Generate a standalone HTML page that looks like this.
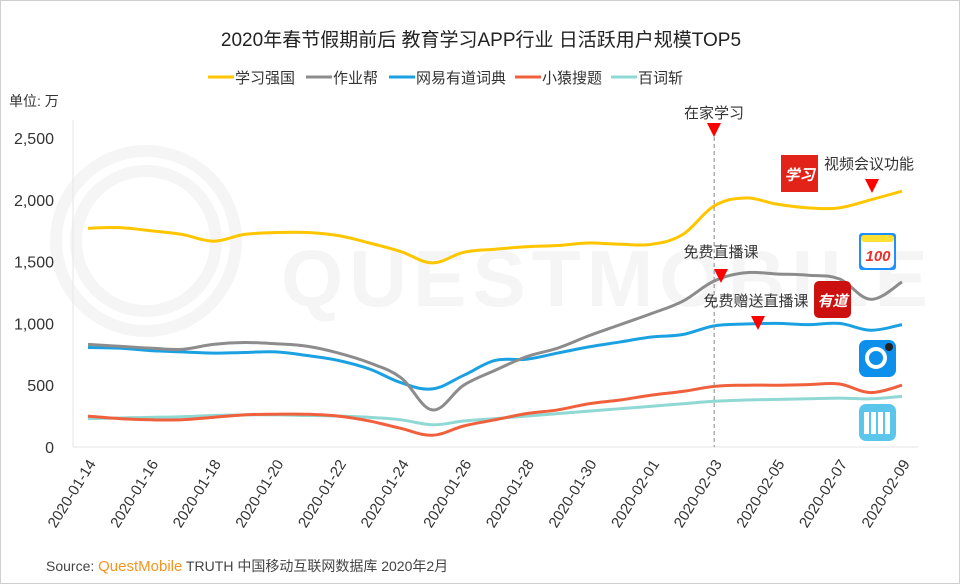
<!DOCTYPE html>
<html><head><meta charset="utf-8"><style>
html,body{margin:0;padding:0;background:#fff}
#wrap{position:relative;width:958px;height:582px;border:1px solid #cfcfcf;overflow:hidden;font-family:"Liberation Sans","Noto Sans CJK SC",sans-serif}
svg text{font-family:"Liberation Sans","Noto Sans CJK SC",sans-serif}
</style></head><body>
<div id="wrap">
<svg id="chart" width="958" height="582" viewBox="0 0 958 582">
  <g fill="none" stroke="#f5f5f5" stroke-width="12">
    <circle cx="145" cy="240" r="90"></circle>
    <circle cx="145" cy="240" r="70"></circle>
    <text x="280" y="305" font-size="80" fill="#f5f5f5" stroke="none" font-weight="bold" letter-spacing="6">QUESTMOBILE</text>
  </g>
  <text x="480" y="45" text-anchor="middle" font-size="19" fill="#222">2020年春节假期前后 教育学习APP行业 日活跃用户规模TOP5</text>
  <g id="legend"></g>
  <text x="8" y="105" font-size="14" fill="#333">单位: 万</text>
  <g id="yaxis"></g>
  <g id="xaxis"></g>
  <g id="series"></g>
  <g id="annot"></g>
  <text x="45" y="570" font-size="14" fill="#444">Source:  <tspan fill="#f7941d" font-size="15">QuestMobile</tspan> TRUTH 中国移动互联网数据库 2020年2月</text>
</svg>
</div>
<script>
const categories=["2020-01-14","2020-01-15","2020-01-16","2020-01-17","2020-01-18","2020-01-19","2020-01-20","2020-01-21","2020-01-22","2020-01-23","2020-01-24","2020-01-25","2020-01-26","2020-01-27","2020-01-28","2020-01-29","2020-01-30","2020-01-31","2020-02-01","2020-02-02","2020-02-03","2020-02-04","2020-02-05","2020-02-06","2020-02-07","2020-02-08","2020-02-09"];
const seriesNames=["学习强国","作业帮","网易有道词典","小猿搜题","百词斩"];
const seriesColors=["#ffc600","#8c8c8c","#1ba1e2","#f0603c","#8fd8d4"];
const xuexi=[1770,1775,1750,1720,1665,1720,1735,1735,1710,1650,1580,1490,1575,1600,1620,1630,1650,1640,1640,1720,1950,2015,1965,1935,1935,2000,2070];
const zuoye=[830,815,800,790,830,845,835,815,760,680,560,300,500,620,730,800,900,990,1080,1180,1343,1410,1400,1390,1360,1195,1335];
const youdao=[805,800,780,770,760,765,770,740,700,630,520,470,580,700,710,760,810,850,890,910,980,995,1000,990,1000,945,990];
const xiaoyuan=[250,230,220,220,240,260,265,265,250,210,150,95,170,220,270,300,350,380,420,450,490,500,500,505,510,440,500];
const baici=[230,235,240,245,255,260,260,255,250,240,220,180,210,230,250,270,290,310,330,350,370,380,385,390,395,390,410];
const seriesData=[xuexi,zuoye,youdao,xiaoyuan,baici];
const yTicks=[0,500,1000,1500,2000,2500];
const yTickLabels=["0","500","1,000","1,500","2,000","2,500"];
const NS="http://www.w3.org/2000/svg";
const x0=87,x1=901,y0=446,y1=137,yMax=2500;
function xs(i){return x0+(x1-x0)*i/(categories.length-1);}
function ys(v){return y0-(y0-y1)*v/yMax;}
function mk(tag,attrs,parent){const e=document.createElementNS(NS,tag);for(const k in attrs)e.setAttribute(k,attrs[k]);parent.appendChild(e);return e;}
const yaxis=document.getElementById('yaxis'),xaxis=document.getElementById('xaxis'),series=document.getElementById('series'),legend=document.getElementById('legend'),annot=document.getElementById('annot');
mk('line',{x1:72,y1:y1-18,x2:72,y2:y0,stroke:'#e6e6e6','stroke-width':1},yaxis);
mk('line',{x1:72,y1:y0,x2:917,y2:y0,stroke:'#e6e6e6','stroke-width':1},xaxis);
yTicks.forEach((v,i)=>{
  const t=mk('text',{x:53,y:ys(v)+6,'text-anchor':'end','font-size':16,fill:'#333'},yaxis);
  
  
  t.textContent=yTickLabels[i];
});
categories.forEach((c,i)=>{
  if(i%2)return;
  const x=xs(i)+4,y=y0+14;
  const t=mk('text',{x:x,y:y+5,'text-anchor':'end','font-size':15,fill:'#333',transform:`rotate(-58 ${x} ${y})`},xaxis);
  
  
  t.textContent=c;
});
const di=categories.indexOf("2020-02-03");
const dl=mk('line',{x1:xs(di),y1:122,x2:xs(di),y2:y0,stroke:'#888','stroke-width':1,'stroke-dasharray':'4,3'},annot);


function pathFor(d){
  const p=d.map((v,i)=>[xs(i),ys(v)]);
  let s=`M${p[0][0]},${p[0][1]}`;
  for(let i=0;i<p.length-1;i++){
    const a=p[i-1]||p[i],b=p[i],c=p[i+1],e=p[i+2]||c;
    const t=0.18;
    s+=` C${b[0]+(c[0]-a[0])*t},${b[1]+(c[1]-a[1])*t} ${c[0]-(e[0]-b[0])*t},${c[1]-(e[1]-b[1])*t} ${c[0]},${c[1]}`;
  }
  return s;
}
const order=[4,3,2,1,0];
order.forEach(k=>{
  const p=mk('path',{d:pathFor(seriesData[k]),fill:'none',stroke:seriesColors[k],'stroke-width':3,'stroke-linejoin':'round'},series);
  
  
});
const legX=[207,305,388,514,610];
seriesNames.forEach((n,k)=>{
  const g=mk('g',{},legend);
  
  
  mk('line',{x1:legX[k],y1:76,x2:legX[k]+26,y2:76,stroke:seriesColors[k],'stroke-width':3},g);
  const t=mk('text',{x:legX[k]+27,y:82,'font-size':15,fill:'#333'},g);
  t.textContent=n;
});
function tri(x,y,name){const p=mk('polygon',{points:`${x-7},${y} ${x+7},${y} ${x},${y+14}`,fill:'#ff0000'},annot);}
function lab(x,y,s,name,anchor){const t=mk('text',{x:x,y:y,'font-size':15,fill:'#333','text-anchor':anchor||'middle'},annot);t.textContent=s;}
lab(713,117,"在家学习","label-home-study");tri(713,122,"marker-home-study");
lab(720,256,"免费直播课","label-free-live");tri(720,268,"marker-free-live");
lab(755,305,"免费赠送直播课","label-free-gift-live");tri(757,315,"marker-free-gift-live");
lab(823,168,"视频会议功能","label-video-meeting","start");tri(871,178,"marker-video-meeting");
function icon(x,y,fill,txt,tcol,name,rx){const g=mk('g',{},annot);
  mk('rect',{x:x,y:y,width:37,height:37,rx:rx,fill:fill},g);
  const t=mk('text',{x:x+18.5,y:y+25,'text-anchor':'middle','font-size':15,'font-weight':'bold',fill:tcol,'font-style':'italic'},g);t.textContent=txt;}
icon(780,154,"#e2231a","学习","#fff","icon-xuexi",0);
icon(858,232,"#1e90ff","","#fff","icon-zuoye",3);
mk('rect',{x:860,y:234,width:33,height:33,rx:5,fill:'#fff'},annot);
mk('rect',{x:860,y:234,width:33,height:7,rx:3,fill:'#ffe033'},annot);
const t100=mk('text',{x:877,y:260,'text-anchor':'middle','font-size':15,'font-weight':'bold','font-style':'italic',fill:'#e8312a'},annot);t100.textContent="100";
icon(813,280,"#cc1010","有道","#fff","icon-youdao",5);
icon(858,339,"#0d8fec","","#fff","icon-xiaoyuan",7);
mk('circle',{cx:875,cy:357,r:9,fill:'none',stroke:'#fff','stroke-width':4},annot);
mk('circle',{cx:888,cy:346,r:4,fill:'#222'},annot);
icon(858,403,"#5bc6eb","","#fff","icon-baici",7);
[0,1,2,3].forEach(i=>mk('rect',{x:863+i*7,y:411,width:5,height:22,fill:'#fff'},annot));
</script>
</body></html>
